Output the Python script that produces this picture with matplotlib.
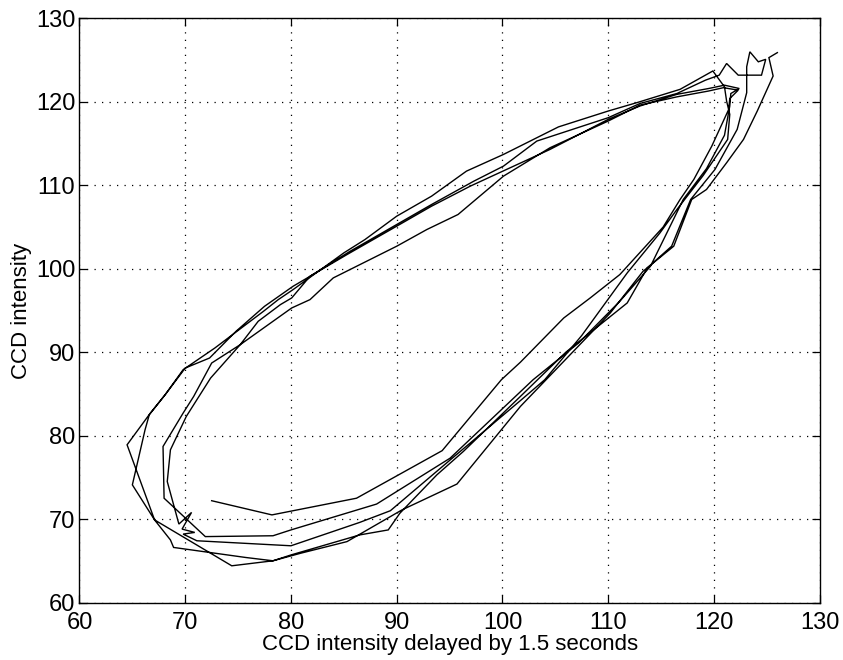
import matplotlib
matplotlib.use("Agg")
import matplotlib.pyplot as plt

plt.rcParams['font.family'] = ['Liberation Sans', 'DejaVu Sans']

# Trajectory: (delayed intensity, intensity) pairs
delayed = [
    # pass 1 (start, lower branch)
    72.5, 78.2, 86.2, 94.3, 99.9, 101.7, 105.8, 108.3, 111.1, 115.2, 116.8, 118.1, 119.8, 121.4, 121.5, 122.3, 120.9, 119.5,
    # upper branch 1
    116.5, 113.0, 110.0, 104.5, 100.1, 95.8, 92.85, 90.0, 85.9, 84.0, 81.8, 80.07, 75.2, 72.4, 70.1, 68.6,
    # bottom-left turn 1
    68.3, 69.4, 70.6, 69.7, 70.9, 69.8, 71.1, 80.0, 86.5, 89.4,
    # lower branch 2
    96.0, 101.7, 104.0, 107.5, 111.8, 114.9, 116.5, 119.0, 121.3, 121.5, 121.2, 121.0, 119.9,
    # upper branch 2 (outer)
    116.8, 112.7, 110.0, 105.3, 100.1, 96.6, 93.3, 90.0, 87.0, 85.0, 80.2, 78.8, 77.4, 72.8, 69.8, 68.1, 66.7, 64.5,
    # bottom-left turn 2
    67.1, 74.4, 78.3, 80.0, 86.5, 89.2, 90.3, 93.8, 96.3, 101.7,
    # lower branch 3
    106.0, 111.8, 113.7, 116.0, 117.8, 120.1, 122.2, 123.1, 123.1, 123.4, 124.2, 124.9, 124.5, 122.3, 121.2, 120.5, 119.2,
    # upper branch 3
    116.5, 113.0, 110.0, 103.25, 100.1, 97.3, 93.3, 90.0, 85.6, 81.8, 80.07, 79.0, 76.9, 75.2, 72.5, 70.8, 69.8, 67.9, 68.0,
    # bottom-left turn 3
    71.9, 78.3, 80.0, 88.1, 95.05, 102.9,
    # lower branch 4
    107.2, 111.1, 114.0, 117.1, 119.3, 121.0, 121.5, 121.6, 122.4, 121.0, 119.5,
    # upper branch 4
    116.5, 113.0, 110.0, 104.5, 96.96, 93.3, 90.0, 85.3, 80.2, 77.5, 74.8, 72.3, 70.0, 68.1, 66.6, 66.2, 65.0,
    # bottom-left turn 4
    67.1, 68.6, 68.9, 75.7, 78.3, 80.9, 85.3, 90.5, 95.7, 99.9, 101.7,
    # lower branch 5 (end)
    110.2, 113.3, 116.2, 117.9, 119.3, 121.2, 122.8, 124.1, 125.6, 125.2, 126.0,
]
intensity = [
    72.2, 70.5, 72.5, 78.2, 86.7, 88.8, 94.1, 96.5, 99.3, 105.0, 108.3, 110.7, 114.7, 119.1, 120.4, 121.4, 121.7, 121.3,
    120.6, 119.6, 117.7, 114.5, 111.1, 106.5, 104.7, 102.7, 100.1, 98.9, 96.3, 95.3, 90.9, 86.9, 82.3, 78.3,
    74.5, 69.4, 70.8, 68.8, 68.4, 68.2, 67.4, 66.8, 69.6, 71.0,
    78.1, 84.2, 86.7, 92.0, 99.5, 104.3, 107.1, 111.2, 115.5, 118.5, 120.1, 121.8, 123.7,
    121.5, 119.9, 118.9, 117.0, 113.7, 111.7, 108.7, 106.3, 103.5, 101.9, 97.5, 96.3, 94.9, 90.5, 87.9, 84.9, 82.7, 78.9,
    69.9, 64.4, 65.0, 65.7, 68.1, 68.7, 70.7, 75.3, 78.1, 84.7,
    90.0, 95.9, 100.1, 102.7, 108.3, 111.9, 116.7, 121.1, 124.2, 126.0, 124.8, 125.1, 123.2, 123.2, 124.6, 123.2, 122.6,
    121.0, 119.8, 118.1, 115.3, 112.3, 110.5, 107.7, 105.3, 102.1, 99.1, 96.5, 95.7, 93.7, 90.9, 88.7, 84.7, 82.7, 78.7, 72.5,
    67.9, 68.0, 68.7, 71.8, 77.3, 86.7,
    91.1, 96.1, 100.3, 108.3, 112.0, 116.0, 119.5, 121.0, 121.6, 122.0, 121.6,
    120.9, 119.5, 117.9, 114.3, 109.9, 107.5, 105.1, 101.7, 97.9, 95.5, 92.5, 89.3, 88.1, 84.9, 82.5, 80.7, 74.1,
    69.9, 67.5, 66.6, 65.4, 65.0, 65.9, 67.3, 71.1, 74.2, 80.7, 83.5,
    94.7, 99.7, 102.7, 108.3, 109.5, 112.7, 115.5, 118.9, 123.1, 125.3, 125.9,
]

x_ticks = [60, 70, 80, 90, 100, 110, 120, 130]
y_ticks = [60, 70, 80, 90, 100, 110, 120, 130]

fig = plt.figure(figsize=(8.43, 6.60), dpi=100)
ax = fig.add_axes([0.0943, 0.0871, 0.878, 0.885])

ax.plot(delayed, intensity, color='black', linewidth=1.0, solid_joinstyle='miter')

ax.set_xlim(60, 130)
ax.set_ylim(60, 130)
ax.set_xticks(x_ticks)
ax.set_yticks(y_ticks)
ax.grid(True, color='black', linestyle=(0, (1, 5)), linewidth=0.9)
ax.tick_params(direction='in', length=6, width=0.9, top=True, right=True,
               labelsize=17)
ax.tick_params(axis='x', pad=7)
ax.tick_params(axis='y', pad=3)
for s in ax.spines.values():
    s.set_linewidth(1.0)

ax.set_xlabel('CCD intensity delayed by 1.5 seconds', fontsize=16, labelpad=0)
ax.set_ylabel('CCD intensity', fontsize=16, labelpad=3)

fig.savefig('out.png', dpi=100)
